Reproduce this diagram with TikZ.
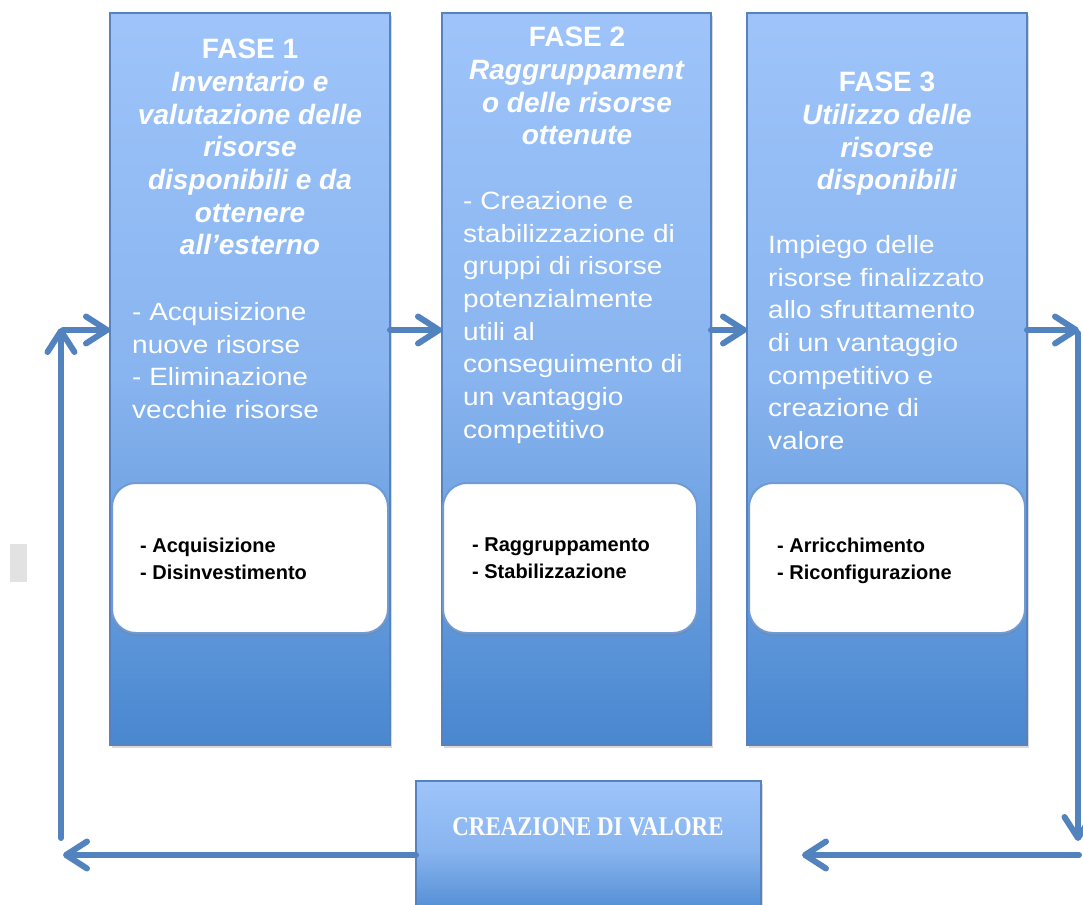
\documentclass[tikz,border=0pt]{standalone}
\usepackage{fontspec}
\setmainfont{Liberation Sans}
\newfontfamily\bodyfont[FakeStretch=1.12]{Liberation Sans}
\newfontfamily\valfont[FakeStretch=0.85]{Liberation Serif}
\usetikzlibrary{arrows.meta,shadows,calc}
\definecolor{boxtop}{HTML}{9EC4FA}
\definecolor{boxmid}{HTML}{88B4EF}
\definecolor{boxbot}{HTML}{4987CF}
\definecolor{boxline}{HTML}{5682BE}
\definecolor{arrowc}{HTML}{5283BE}
\definecolor{innerline}{HTML}{6F9AD3}
\definecolor{greybit}{HTML}{E2E2E2}
\tikzset{
  phase/.style={draw=boxline, line width=1.2pt, inner sep=0pt, outer sep=0pt,
    top color=boxtop, bottom color=boxbot, middle color=boxmid,
    anchor=north west,
    drop shadow={opacity=0.3, shadow xshift=2pt, shadow yshift=-3pt}},
  inner/.style={draw=innerline, line width=2pt, fill=white, rounded corners=24pt,
    inner sep=0pt, outer sep=0pt, anchor=north west,
    minimum height=150pt,
    drop shadow={opacity=0.3, shadow xshift=0pt, shadow yshift=-3pt}},
  ttl/.style={text=white, inner sep=0pt, align=center, anchor=north,
    font=\fontsize{28}{32.7}\selectfont\bfseries},
  bdy/.style={text=white, inner sep=0pt, align=left, anchor=north west,
    font=\bodyfont\fontsize{25}{32.7}\selectfont},
  itm/.style={text=black, inner sep=0pt, align=left, anchor=north west,
    font=\fontsize{20}{27}\selectfont\bfseries},
  flow/.style={draw=arrowc, line width=6pt, line cap=round,
    -{Straight Barb[length=21pt,width=27pt,line cap=round,line join=round]}},
  plain/.style={draw=arrowc, line width=6pt}
}
\begin{document}
\begin{tikzpicture}[x=1pt,y=-1pt]
\useasboundingbox (0,0) rectangle (1083,904);

% grey fragment at the left edge
\fill[greybit] (10,544) rectangle (27,582);

% phase columns
\node[phase, minimum width=280pt, minimum height=732pt] (b1) at (110,13) {};
\node[phase, minimum width=269pt, minimum height=732pt] (b2) at (442,13) {};
\node[phase, minimum width=280pt, minimum height=732pt] (b3) at (747,13) {};

% inner white boxes
\node[inner, minimum width=276pt] (w1) at (112,483) {};
\node[inner, minimum width=254pt] (w2) at (443,483) {};
\node[inner, minimum width=276pt] (w3) at (749,483) {};

% titles
\node[ttl] (t1) at (250,39) {FASE 1\\\textit{Inventario e}\\\textit{valutazione delle}\\\textit{risorse}\\\textit{disponibili e da}\\\textit{ottenere}\\\textit{all’esterno}};
\node[ttl] (t2) at (577,27) {FASE 2\\\textit{Raggruppament}\\\textit{o delle risorse}\\\textit{ottenute}};
\node[ttl] (t3) at (887,72) {FASE 3\\\textit{Utilizzo delle}\\\textit{risorse}\\\textit{disponibili}};

% body texts
\node[bdy] (d1) at (132,302) {- Acquisizione\\nuove risorse\\- Eliminazione\\vecchie risorse};
\node[bdy] (d2) at (463,191) {- Creazione\hspace{10pt}e\\stabilizzazione di\\gruppi\hspace{8pt}di risorse\\potenzialmente\\utili al\\conseguimento di\\un vantaggio\\competitivo};
\node[bdy] (d3) at (768,235) {Impiego delle\\risorse finalizzato\\allo sfruttamento\\di un vantaggio\\competitivo e\\creazione di\\valore};

% items in the white boxes
\node[itm] (i1) at (140,538) {- Acquisizione\\- Disinvestimento};
\node[itm] (i2) at (472,538) {- Raggruppamento\\- Stabilizzazione};
\node[itm] (i3) at (777,538) {- Arricchimento\\- Riconfigurazione};

% value creation box
\node[phase, minimum width=345pt, minimum height=140pt] (cv) at (416,781) {};
\node[text=white, inner sep=0pt, font=\valfont\fontsize{27}{30}\selectfont\bfseries] (cvt) at (588,827) {CREAZIONE DI VALORE};

% helper coordinates
\coordinate (lvl) at (0,330);
\coordinate (bot) at (0,855);
\coordinate (rtip) at (1079,330);
\coordinate (rtop) at (1078,333);
\coordinate (rdown) at (1078,841);
\coordinate (rcorner) at (1079,855);
\coordinate (lcorner) at (63,855);
\coordinate (lstart) at (61,838);
\coordinate (lup) at (61,328);
\coordinate (lbend) at (63,330);

% connectors
\draw[flow] (lbend) -- (b1.west |- lvl);
\draw[flow] (b1.east |- lvl) -- (b2.west |- lvl);
\draw[flow] (b2.east |- lvl) -- (b3.west |- lvl);
\draw[flow] (b3.east |- lvl) -- (rtip);
\draw[flow] (rtop) -- (rdown);
\draw[flow, shorten >=41pt] (rcorner) -- (cv.east |- bot);
\draw[flow] (cv.west |- bot) -- (lcorner);
\draw[flow] (lstart) -- (lup);
\end{tikzpicture}
\end{document}
